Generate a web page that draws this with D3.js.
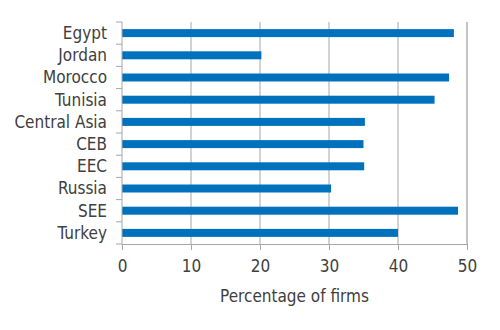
<!DOCTYPE html>
<html>
<head>
<meta charset="utf-8">
<script src="https://cdn.jsdelivr.net/npm/d3@7"></script>
<style>
  html, body { margin: 0; padding: 0; background: #fff; }
  svg text { font-family: "Liberation Sans Narrow", "DejaVu Sans Condensed", "Liberation Sans", sans-serif; fill: #404040; }
</style>
</head>
<body>
<svg id="chart" width="500" height="330"></svg>
<script>
// Share of firms by economy (percent)
const categories = ["Egypt", "Jordan", "Morocco", "Tunisia", "Central Asia", "CEB", "EEC", "Russia", "SEE", "Turkey"];
const values = [48.1, 20.2, 47.4, 45.3, 35.2, 35.0, 35.1, 30.3, 48.7, 40.0];
const xTicks = [0, 10, 20, 30, 40, 50];
const xTitle = "Percentage of firms";

const svg = d3.select("#chart");
const margin = { top: 22, right: 33, bottom: 86, left: 122 };
const W = 500, H = 330;
const innerW = W - margin.left - margin.right;
const innerH = H - margin.top - margin.bottom;

const g = svg.append("g").attr("transform", `translate(${margin.left},${margin.top})`);

const x = d3.scaleLinear().domain([0, 50]).range([0, innerW]);
const y = d3.scaleBand().domain(categories).range([0, innerH]).paddingInner(0.64).paddingOuter(0.32);

// vertical gridlines
g.selectAll("line.grid")
  .data(xTicks.filter(t => t > 0))
  .join("line")
  .attr("class", "grid")
  .attr("x1", d => x(d)).attr("x2", d => x(d))
  .attr("y1", 0).attr("y2", innerH)
  .attr("stroke", d => d === 50 ? "#c4c4c4" : "#a6a6a6")
  .attr("stroke-width", d => d === 50 ? 2 : 1);

// bars
g.selectAll("rect.bar")
  .data(categories.map((c, i) => ({ c, v: values[i] })))
  .join("rect")
  .attr("class", "bar")
  .attr("x", x(0))
  .attr("y", d => y(d.c))
  .attr("width", d => x(d.v) - x(0))
  .attr("height", y.bandwidth())
  .attr("fill", "#0071bd");

// y axis with ticks at band boundaries
const step = y.step();
const yBounds = d3.range(categories.length + 1).map(i => i * step);
g.append("line")
  .attr("x1", 0).attr("x2", 0).attr("y1", 0).attr("y2", innerH)
  .attr("stroke", "#a6a6a6");
g.selectAll("line.ytick")
  .data(yBounds)
  .join("line")
  .attr("class", "ytick")
  .attr("x1", -6).attr("x2", 0)
  .attr("y1", d => d).attr("y2", d => d)
  .attr("stroke", "#a6a6a6");
g.selectAll("text.ylab")
  .data(categories)
  .join("text")
  .attr("class", "ylab")
  .attr("x", -15)
  .attr("y", d => y(d) + y.bandwidth() / 2)
  .attr("dy", "0.35em")
  .attr("text-anchor", "end")
  .attr("font-size", 17)
  .text(d => d);

// x axis
const xAxis = g.append("g")
  .attr("transform", `translate(0,${innerH})`)
  .call(d3.axisBottom(x).tickValues(xTicks).tickSize(6).tickPadding(10));
xAxis.select(".domain").attr("stroke", "#a6a6a6");
xAxis.selectAll(".tick line").attr("stroke", "#a6a6a6");
xAxis.selectAll(".tick text").attr("font-size", 17).attr("fill", "#404040")
  .style("font-family", "\"Liberation Sans Narrow\", \"DejaVu Sans Condensed\", sans-serif");

// axis title
g.append("text")
  .attr("x", innerW / 2)
  .attr("y", innerH + 58)
  .attr("text-anchor", "middle")
  .attr("font-size", 17)
  .text(xTitle);
</script>
</body>
</html>
